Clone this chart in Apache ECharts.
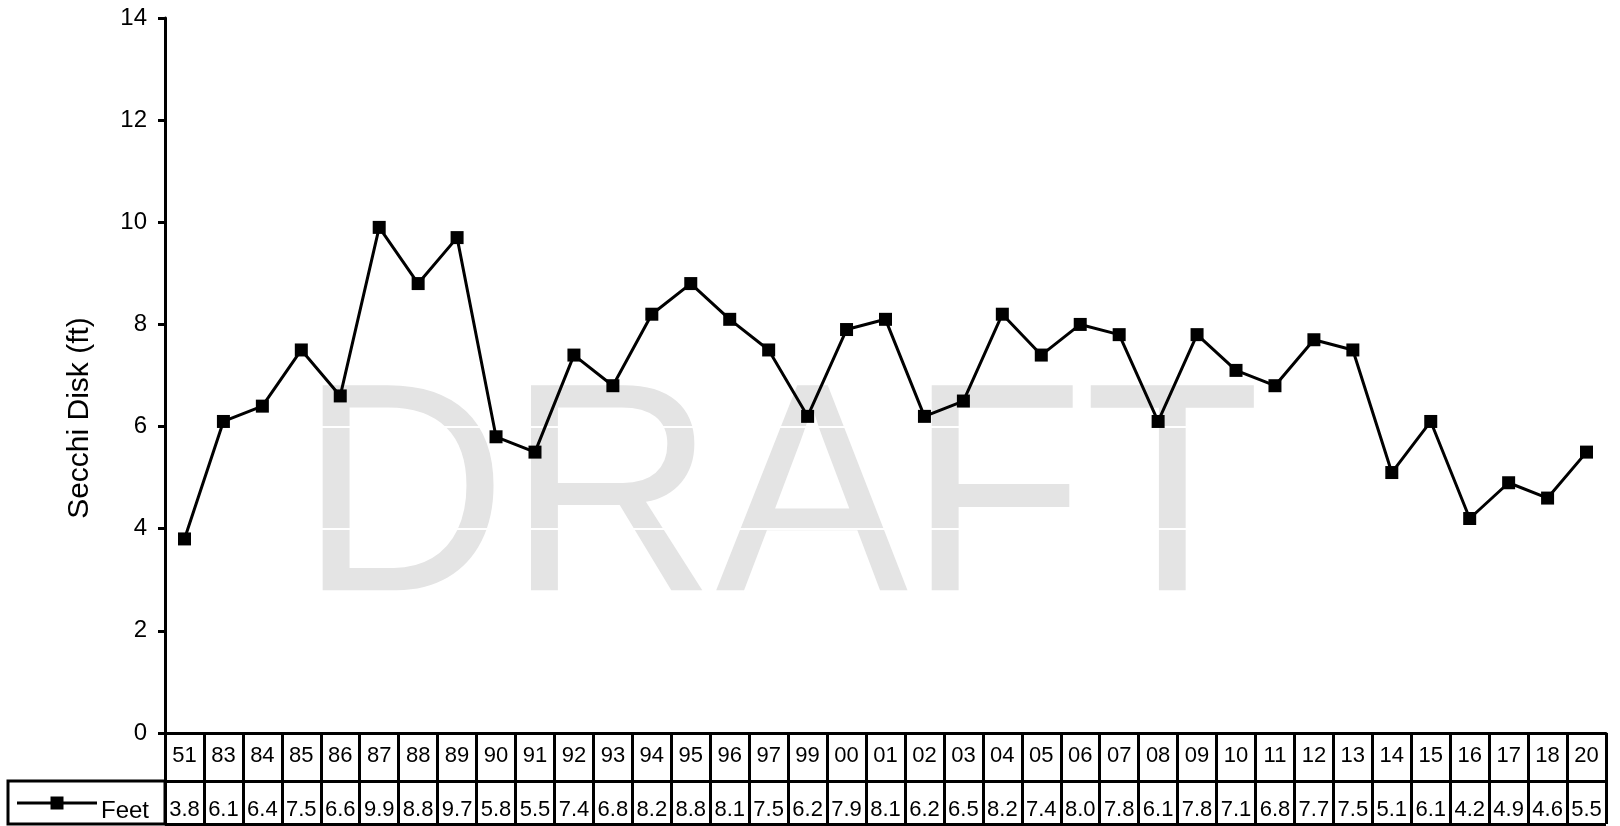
<!DOCTYPE html>
<html>
<head>
<meta charset="utf-8">
<title>Secchi Disk (ft)</title>
<script src="https://cdn.jsdelivr.net/npm/echarts@6/dist/echarts.min.js"></script>
<style>
  html, body { margin: 0; padding: 0; background: #fff; }
  #chart { width: 1620px; height: 826px; }
</style>
</head>
<body>
<div id="chart"></div>
<script>
// Sampling years (two-digit) and the Secchi depth for each, in feet
const years = ['51','83','84','85','86','87','88','89','90','91','92','93','94','95','96','97','99',
               '00','01','02','03','04','05','06','07','08','09','10','11','12','13','14','15','16','17','18','20'];
const feet = [3.8, 6.1, 6.4, 7.5, 6.6, 9.9, 8.8, 9.7, 5.8, 5.5, 7.4, 6.8, 8.2, 8.8, 8.1, 7.5, 6.2,
              7.9, 8.1, 6.2, 6.5, 8.2, 7.4, 8.0, 7.8, 6.1, 7.8, 7.1, 6.8, 7.7, 7.5, 5.1, 6.1, 4.2, 4.9, 4.6, 5.5];
// Depth axis range
const depthMin = 0;
const depthMax = 14;
const depthStep = 2;

const FONT = '"Liberation Sans", Arial, Helvetica, sans-serif';
const INK = '#000';
const BORDER = 3;

const chart = echarts.init(document.getElementById('chart'), null, { renderer: 'canvas' });

const option = {
  backgroundColor: '#fff',
  animation: false,
  textStyle: { fontFamily: FONT, color: INK },
  grid: [
    // plot area
    { left: 165, top: 18, width: 1441, height: 715 },
    // data-table row holding the values
    { left: 165, top: 781, width: 1441, height: 43 }
  ],
  xAxis: [
    {
      type: 'category',
      gridIndex: 0,
      data: years,
      boundaryGap: true,
      axisLine: { show: true, lineStyle: { color: INK, width: BORDER } },
      axisTick: { show: true, interval: 0, length: 48, lineStyle: { color: INK, width: BORDER } },
      axisLabel: { interval: 0, fontSize: 22, color: INK, fontFamily: FONT, margin: 12 },
      splitLine: { show: false }
    },
    {
      type: 'category',
      gridIndex: 1,
      data: years,
      boundaryGap: true,
      axisLine: { show: false },
      axisTick: { show: false },
      axisLabel: { show: false },
      splitLine: { show: true, interval: 0, lineStyle: { color: INK, width: BORDER } }
    }
  ],
  yAxis: [
    {
      type: 'value',
      gridIndex: 0,
      min: depthMin,
      max: depthMax,
      interval: depthStep,
      axisLine: { show: true, lineStyle: { color: INK, width: BORDER } },
      axisTick: { show: true, length: 7, lineStyle: { color: INK, width: BORDER } },
      axisLabel: { fontSize: 24, color: INK, fontFamily: FONT, margin: 18 },
      splitLine: { show: true, lineStyle: { color: '#fff', width: 2 } }
    },
    {
      type: 'value',
      gridIndex: 1,
      min: 0,
      max: 1,
      interval: 1,
      axisLine: { show: true, lineStyle: { color: INK, width: BORDER } },
      axisTick: { show: false },
      axisLabel: { show: false },
      splitLine: { show: true, lineStyle: { color: INK, width: BORDER } }
    }
  ],
  series: [
    {
      name: 'Feet',
      type: 'line',
      xAxisIndex: 0,
      yAxisIndex: 0,
      data: feet,
      symbol: 'rect',
      symbolSize: 13,
      lineStyle: { color: INK, width: 3 },
      itemStyle: { color: INK },
      z: 5
    },
    {
      // value row of the data table
      name: 'Feet values',
      type: 'scatter',
      xAxisIndex: 1,
      yAxisIndex: 1,
      data: feet.map((v, i) => [i, 0.5, v]),
      symbolSize: 0,
      itemStyle: { color: INK },
      silent: true,
      label: {
        show: true,
        position: 'inside',
        offset: [0, 7],
        formatter: p => p.value[2].toFixed(1),
        fontSize: 22,
        color: INK,
        textBorderWidth: 0,
        opacity: 1,
        fontFamily: FONT
      }
    }
  ],
  graphic: [
    {
      // watermark, kept beneath the gridlines
      type: 'text',
      z: -10,
      silent: true,
      x: 299,
      y: 508,
      scaleX: 0.968,
      style: {
        text: 'DRAFT',
        fontSize: 298,
        fontFamily: FONT,
        fill: '#e4e4e4',
        textAlign: 'left',
        textVerticalAlign: 'middle'
      }
    },
    {
      type: 'text',
      x: 80,
      y: 418,
      rotation: Math.PI / 2,
      style: {
        text: 'Secchi Disk (ft)',
        fontSize: 30,
        fontFamily: FONT,
        fill: INK,
        textAlign: 'center',
        textVerticalAlign: 'middle'
      }
    },
    // legend cell at the left of the value row
    {
      type: 'rect',
      shape: { x: 8, y: 781, width: 157, height: 43 },
      style: { fill: 'none', stroke: INK, lineWidth: BORDER }
    },
    {
      type: 'line',
      shape: { x1: 17, y1: 803, x2: 97, y2: 803 },
      style: { stroke: INK, lineWidth: 3 }
    },
    {
      type: 'rect',
      shape: { x: 50.5, y: 796.5, width: 13, height: 13 },
      style: { fill: INK }
    },
    {
      type: 'text',
      x: 101,
      y: 811,
      style: {
        text: 'Feet',
        fontSize: 24,
        fontFamily: FONT,
        fill: INK,
        textAlign: 'left',
        textVerticalAlign: 'middle'
      }
    }
  ]
};

chart.setOption(option);
</script>
</body>
</html>
